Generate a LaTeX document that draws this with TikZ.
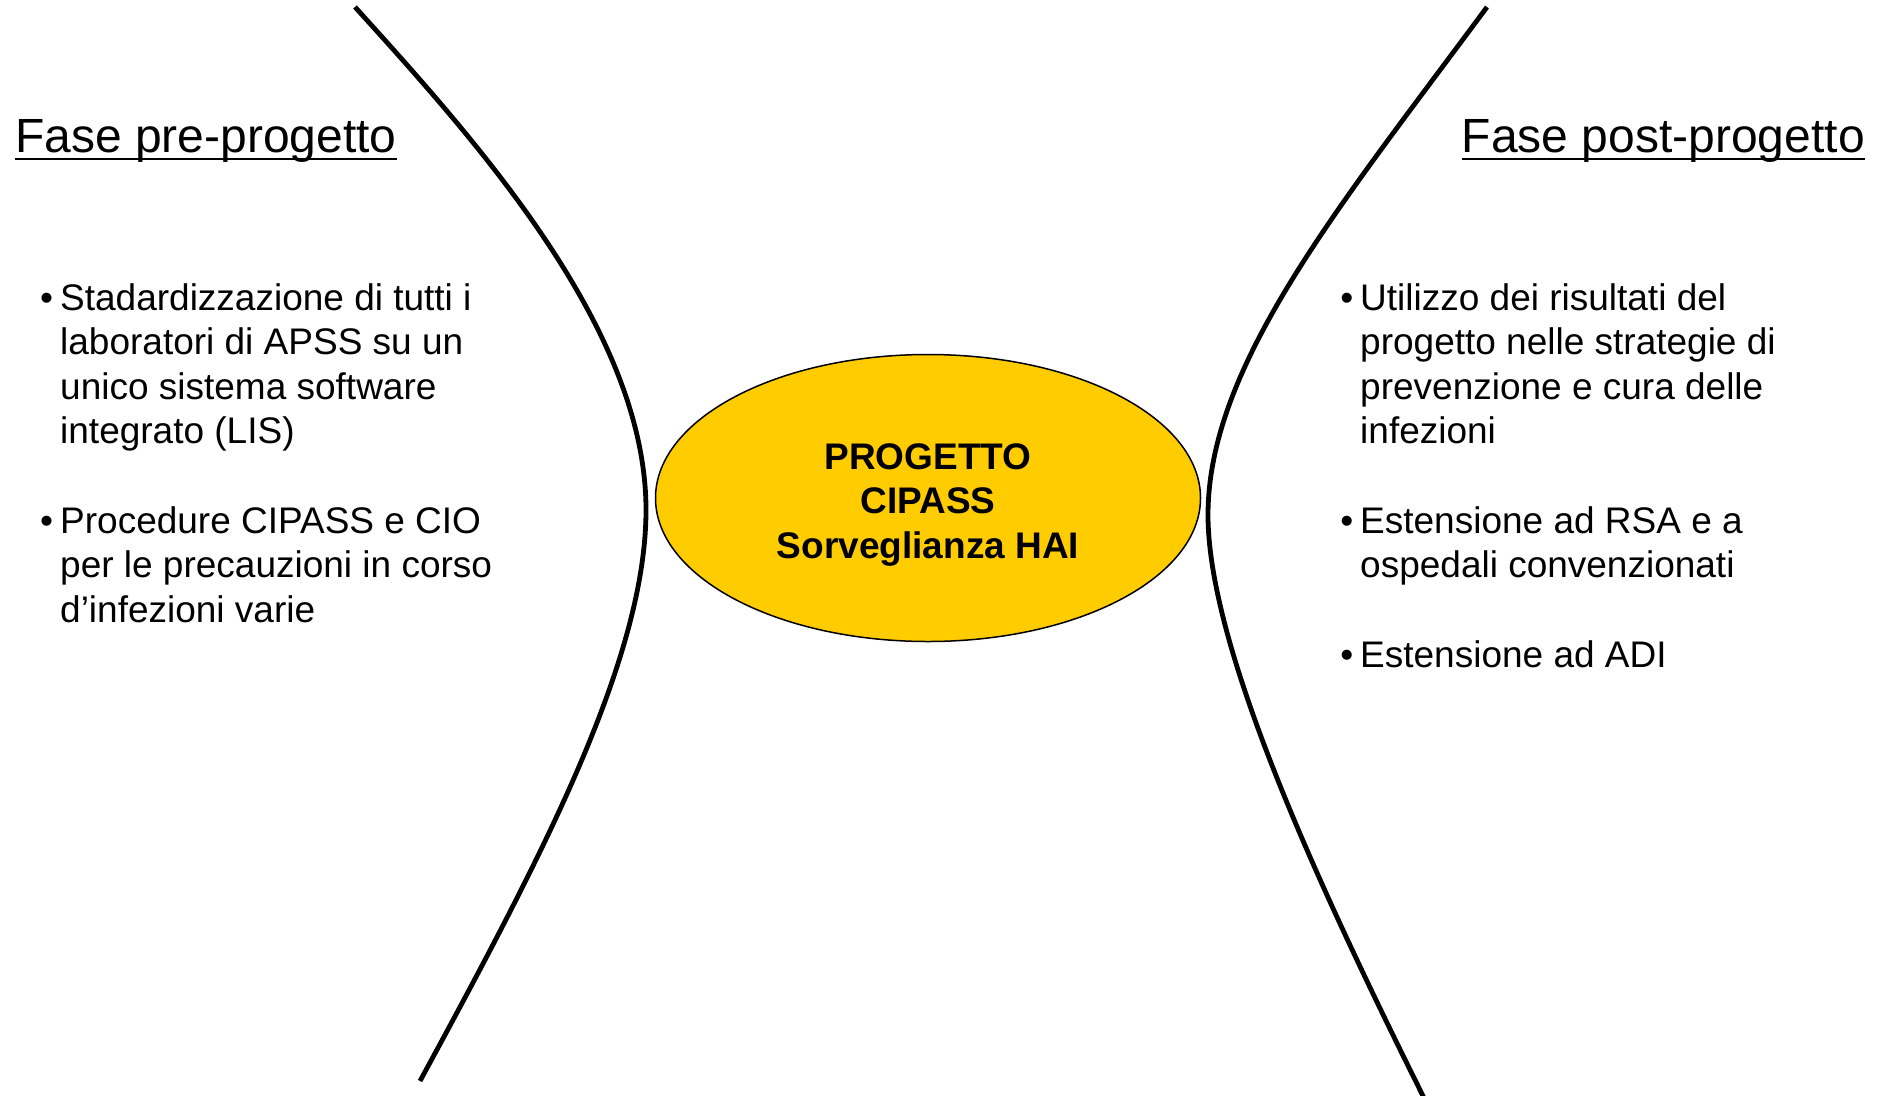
\documentclass[tikz,border=0pt]{standalone}
\usepackage{fontspec}
\setmainfont{Liberation Sans}
\usetikzlibrary{shapes}
\definecolor{cipassyellow}{HTML}{FFCC00}
\tikzstyle{phasetitle} = [font=\fontsize{48}{58}\selectfont, inner sep=0pt]
\tikzstyle{bulletitem} = [font=\fontsize{37}{44.5}\selectfont, align=left,
    inner sep=0pt, anchor=base west]
\tikzstyle{coreellipse} = [ellipse, draw, fill=cipassyellow, line width=1.5pt,
    minimum width=545pt, minimum height=287pt, inner sep=0pt,
    font=\fontsize{37}{44.5}\selectfont\bfseries, align=center]
\tikzstyle{wing} = [draw, line width=4.8pt]
\tikzstyle{uline} = [draw, line width=2.5pt]
\newcommand{\bul}{\llap{\textbullet\hspace{7pt}}}

\begin{document}
\begin{tikzpicture}[x=1pt, y=-1pt]
        \useasboundingbox (0,0) rectangle (1886,1095);

        % Place nodes
        % 1. the project in the middle (strut lowers the text a bit)
        \node [coreellipse] (cipass) at (928,498) {\rule{0pt}{39pt}PROGETTO\\CIPASS\\Sorveglianza HAI};

        % 2. phase before the project (base = last line)
        \node [phasetitle, anchor=base west] (pre) at (15,152) {Fase pre-progetto};
        \node [bulletitem] (lis) at (60,443.5) {\bul Stadardizzazione di tutti i\\laboratori di APSS su un\\unico sistema software\\integrato (LIS)};
        \node [bulletitem] (cio) at (60,622) {\bul Procedure CIPASS e CIO\\per le precauzioni in corso\\d’infezioni varie};

        % 3. phase after the project
        \node [phasetitle, anchor=base east] (post) at (1865,152) {Fase post-progetto};
        \node [bulletitem] (uso) at (1360,443.5) {\bul Utilizzo dei risultati del\\progetto nelle strategie di\\prevenzione e cura delle\\infezioni};
        \node [bulletitem] (rsa) at (1360,577.5) {\bul Estensione ad RSA e a\\ospedali convenzionati};
        \node [bulletitem] (adi) at (1360,667) {\bul Estensione ad ADI};

        % Draw underlines
        \path [uline] ([yshift=-7pt]pre.base west) -- ([yshift=-7pt]pre.base east);
        \path [uline] ([yshift=-7pt]post.base west) -- ([yshift=-7pt]post.base east);

        % Draw curves
        \path [wing] (355,7) .. controls (480,145) and (646,330) .. (646,510)
            .. controls (646,660) and (540,860) .. (420,1081);
        \path [wing] (1487,7) .. controls (1339,207) and (1208,365) .. (1208,515)
            .. controls (1208,650) and (1323,895) .. (1426,1102);
\end{tikzpicture}
\end{document}
